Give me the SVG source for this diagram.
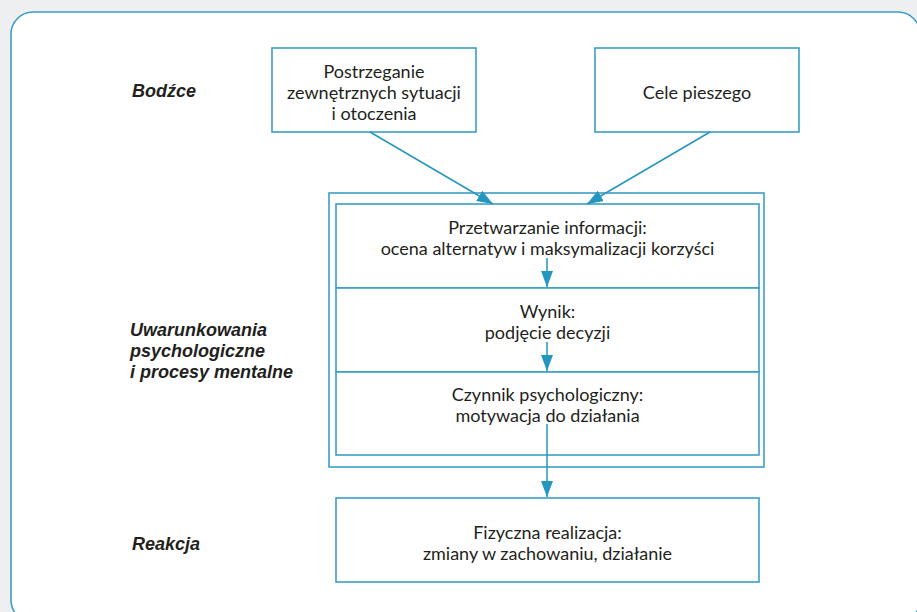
<svg xmlns="http://www.w3.org/2000/svg" width="917" height="612" viewBox="0 0 917 612">
<defs>
<marker id="ah" viewBox="0 0 16 12" refX="16" refY="6" markerWidth="16" markerHeight="12" markerUnits="userSpaceOnUse" orient="auto">
<path d="M0,0 L16,6 L0,12 Z" fill="#2596bf"/>
</marker>
<style>
.box{fill:#fff;stroke:#3a9ec6;stroke-width:1.6}
.t{font-family:Lato,"Open Sans","Noto Sans",sans-serif;font-size:18px;fill:#231f20;text-anchor:middle}
.l{font-family:"Liberation Sans",Arial,sans-serif;font-size:18px;font-weight:bold;font-style:italic;fill:#231f20}
.c{stroke:#2596bf;stroke-width:1.5;fill:none}
</style>
</defs>
<rect x="0" y="0" width="917" height="612" fill="#eeeff0"/>
<rect x="11" y="12" width="909" height="610" rx="22" ry="22" fill="#fff" stroke="#3a9ec6" stroke-width="1.6"/>
<g id="labels">
<text class="l" x="132" y="97">Bodźce</text>
<text class="l" x="130" y="336">Uwarunkowania</text>
<text class="l" x="130" y="357">psychologiczne</text>
<text class="l" x="130" y="378">i procesy mentalne</text>
<text class="l" x="132" y="550">Reakcja</text>
</g>
<g id="n1">
<rect class="box" x="272" y="48" width="204" height="84"/>
<text class="t" x="374" y="78">Postrzeganie</text>
<text class="t" x="374" y="99">zewnętrznych sytuacji</text>
<text class="t" x="374" y="120">i otoczenia</text>
</g>
<g id="n2">
<rect class="box" x="595" y="48" width="204" height="84"/>
<text class="t" x="697" y="99">Cele pieszego</text>
</g>
<g id="container">
<rect class="box" x="329" y="193" width="435" height="274"/>
</g>
<g id="n3">
<rect class="box" x="336" y="204" width="423" height="84"/>
<text class="t" x="547.5" y="234">Przetwarzanie informacji:</text>
<text class="t" x="547.5" y="255">ocena alternatyw i maksymalizacji korzyści</text>
</g>
<g id="n4">
<rect class="box" x="336" y="288" width="423" height="84"/>
<text class="t" x="547.5" y="318">Wynik:</text>
<text class="t" x="547.5" y="339">podjęcie decyzji</text>
</g>
<g id="n5">
<rect class="box" x="336" y="372" width="423" height="83"/>
<text class="t" x="547.5" y="401">Czynnik psychologiczny:</text>
<text class="t" x="547.5" y="422">motywacja do działania</text>
</g>
<g id="n6">
<rect class="box" x="336" y="498" width="423" height="84"/>
<text class="t" x="547.5" y="539">Fizyczna realizacja:</text>
<text class="t" x="547.5" y="560">zmiany w zachowaniu, działanie</text>
</g>
<g id="connectors">
<line class="c" x1="370" y1="132" x2="493" y2="204" marker-end="url(#ah)"/>
<line class="c" x1="710" y1="132" x2="587" y2="204" marker-end="url(#ah)"/>
<line class="c" x1="547" y1="258" x2="547" y2="287" marker-end="url(#ah)"/>
<line class="c" x1="547" y1="342" x2="547" y2="371" marker-end="url(#ah)"/>
<line class="c" x1="547" y1="424" x2="547" y2="497" marker-end="url(#ah)"/>
</g>
</svg>
